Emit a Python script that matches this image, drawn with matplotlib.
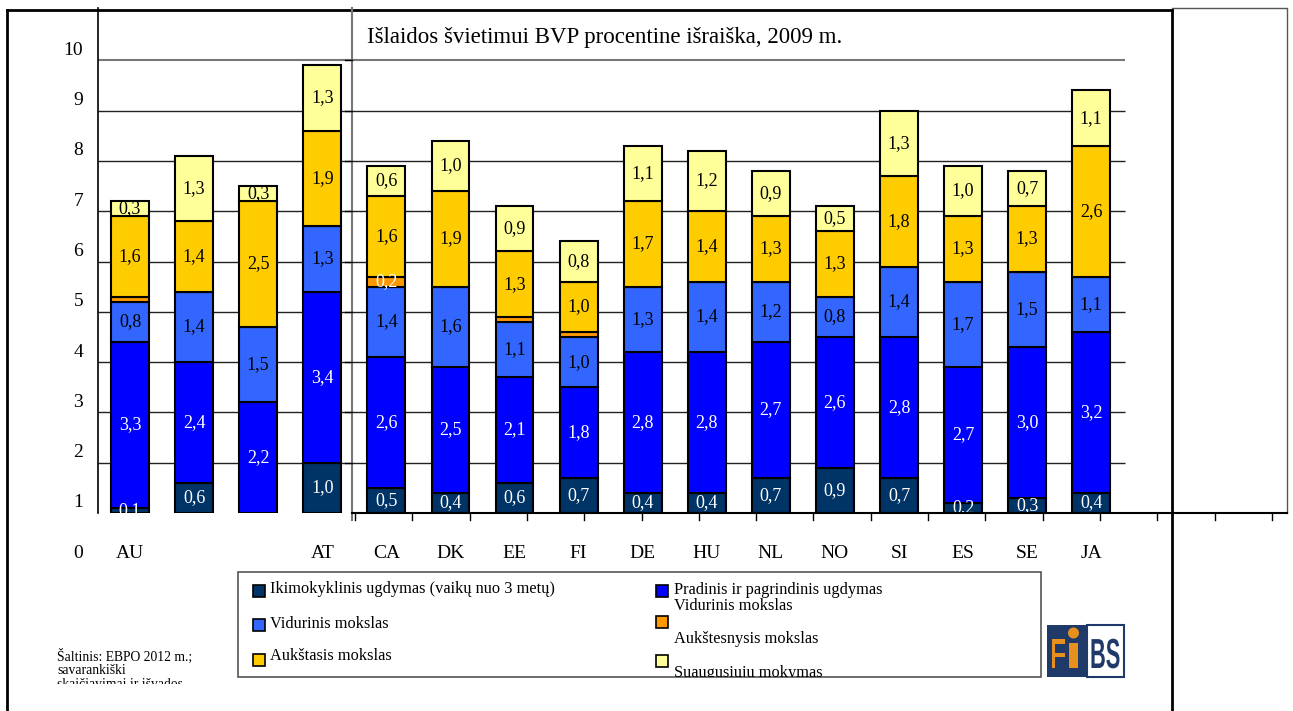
import matplotlib
matplotlib.use('Agg')
import matplotlib.pyplot as plt
from matplotlib.lines import Line2D
from matplotlib.patches import Rectangle, Circle, PathPatch
from matplotlib.textpath import TextPath
from matplotlib.font_manager import FontProperties
from matplotlib.transforms import Affine2D

W, H = 1293, 711
plt.rcParams['font.family'] = ['Liberation Serif', 'DejaVu Serif']

# data (BVP %, 2009)
countries = ['AU', '', '', 'AT', 'CA', 'DK', 'EE', 'FI', 'DE', 'HU', 'NL', 'NO', 'SI', 'ES', 'SE', 'JA']
ikimokyklinis = [0.1, 0.6, 0.0, 1.0, 0.5, 0.4, 0.6, 0.7, 0.4, 0.4, 0.7, 0.9, 0.7, 0.2, 0.3, 0.4]
pradinis = [3.3, 2.4, 2.2, 3.4, 2.6, 2.5, 2.1, 1.8, 2.8, 2.8, 2.7, 2.6, 2.8, 2.7, 3.0, 3.2]
vidurinis = [0.8, 1.4, 1.5, 1.3, 1.4, 1.6, 1.1, 1.0, 1.3, 1.4, 1.2, 0.8, 1.4, 1.7, 1.5, 1.1]
aukstesnysis = [0.1, 0.0, 0.0, 0.0, 0.2, 0.0, 0.1, 0.1, 0.0, 0.0, 0.0, 0.0, 0.0, 0.0, 0.0, 0.0]
aukstasis = [1.6, 1.4, 2.5, 1.9, 1.6, 1.9, 1.3, 1.0, 1.7, 1.4, 1.3, 1.3, 1.8, 1.3, 1.3, 2.6]
suaugusiuju = [0.3, 1.3, 0.3, 1.3, 0.6, 1.0, 0.9, 0.8, 1.1, 1.2, 0.9, 0.5, 1.3, 1.0, 0.7, 1.1]
y_labels = list(range(0, 11))

series = [
    (ikimokyklinis, '#003366', 'white'),
    (pradinis, '#0000FF', 'white'),
    (vidurinis, '#3366FF', 'black'),
    (aukstesnysis, '#FF9900', 'white'),
    (aukstasis, '#FFCC00', 'black'),
    (suaugusiuju, '#FFFF99', 'black'),
]

fig = plt.figure(figsize=(W / 100, H / 100), dpi=100)


def fx(x):
    return x / W


def fy(y):
    return 1 - y / H


def line(xs, ys, **kw):
    fig.add_artist(Line2D([fx(x) for x in xs], [fy(y) for y in ys], **kw))


ax = fig.add_axes([fx(98), fy(513), (1172 - 98) / W, (513 - 10) / H])
ax.set_xlim(-0.5, 16.26)
ax.set_ylim(0, 10)
ax.axis('off')

# gridlines
ax.hlines(range(1, 9), -0.5, 15.53, color='#222222', lw=1, zorder=0)
ax.hlines([9], -0.5, 15.53, color='#777777', lw=1.5, zorder=0)

x = list(range(len(countries)))
bottom = [0.0] * len(countries)
for vals, col, tcol in series:
    ax.bar(x, vals, bottom=bottom, width=0.59, color=col, edgecolor='black', lw=1.5, zorder=2)
    for i, v in enumerate(vals):
        if v <= 0 or (col == '#FF9900' and v < 0.2):
            continue
        ax.text(i, bottom[i] + v / 2, f'{v:.1f}'.replace('.', ','), ha='center', va='center',
                color=tcol, fontsize=13, zorder=3, clip_on=True)
    bottom = [b + v for b, v in zip(bottom, vals)]

for i, c in enumerate(countries):
    ax.text(i, -0.8, c, ha='center', va='center', fontsize=14, clip_on=False)

for k in y_labels:
    ax.text(-0.73, k - 0.8, str(k), ha='right', va='center', fontsize=14, clip_on=False)

fig.text(fx(367), fy(37), 'Išlaidos švietimui BVP procentine išraiška, 2009 m.', ha='left', va='center', fontsize=16.5)

# frames and extra axis lines
line([7, 1172], [10, 10], color='black', lw=2)
line([7, 7], [10, 711], color='black', lw=2)
line([1172, 1172], [10, 711], color='black', lw=2)
line([98, 98], [8, 513], color='black', lw=1.2)
line([352, 352], [8, 520], color='#777777', lw=1.5)
line([1172, 1287, 1287], [8, 8, 513], color='#555555', lw=1)
line([352, 1287], [513, 513], color='black', lw=1.5)
for k in range(17):
    tx = 355 + 57.3 * k
    line([tx, tx], [513, 520], color='black', lw=1)
for v in range(1, 10):
    ty = 513 - 50.3 * v
    line([345, 352], [ty, ty], color='black', lw=1)

# legend box
lg = Rectangle((fx(238), fy(677)), (1041 - 238) / W, (677 - 572) / H, fill=False,
               edgecolor='#555555', lw=1.2, transform=fig.transFigure)
fig.add_artist(lg)
clip = Rectangle((fx(238), fy(677)), (1041 - 238) / W, (677 - 572) / H, transform=fig.transFigure)

legend_sq = [(253, 591, '#003366'), (253, 625, '#3366FF'), (253, 660, '#FFCC00'),
             (656, 591, '#0000FF'), (656, 622, '#FF9900'), (656, 661, '#FFFF99')]
for sx, sy, c in legend_sq:
    fig.add_artist(Rectangle((fx(sx), fy(sy + 6)), 12 / W, 12 / H, facecolor=c, edgecolor='black',
                             lw=1.2, transform=fig.transFigure))

legend_txt = [(270, 589, 'Ikimokyklinis ugdymas (vaikų nuo 3 metų)'),
              (270, 624, 'Vidurinis mokslas'),
              (270, 656, 'Aukštasis mokslas'),
              (674, 590, 'Pradinis ir pagrindinis ugdymas'),
              (674, 606, 'Vidurinis mokslas'),
              (674, 639, 'Aukštesnysis mokslas'),
              (674, 673, 'Suaugusiųjų mokymas')]
for tx, ty, s in legend_txt:
    t = fig.text(fx(tx), fy(ty), s, ha='left', va='center', fontsize=11.8)
    t.set_clip_path(clip)

# source note
src_clip = Rectangle((0, fy(684)), 0.3, 0.2, transform=fig.transFigure)
for i, s in enumerate(['Šaltinis: EBPO 2012 m.;', 'savarankiški', 'skaičiavimai ir išvados']):
    t = fig.text(fx(57), fy(656 + 14 * i), s, ha='left', va='center', fontsize=9.8)
    t.set_clip_path(src_clip)

# logo
navy = '#1F3A68'
orange = '#E8901E'
fig.add_artist(Rectangle((fx(1047), fy(677)), 40 / W, 52 / H, facecolor=navy, edgecolor='none',
                         transform=fig.transFigure))
fig.add_artist(Rectangle((fx(1087), fy(677)), 37 / W, 52 / H, facecolor='white', edgecolor=navy,
                         lw=1.5, transform=fig.transFigure))
px2fig = Affine2D().scale(1 / W, 1 / H) + fig.transFigure
logo_font = FontProperties(family=['Liberation Sans', 'DejaVu Sans'], weight='bold')


def logo_text(s, x0, base, sx, color):
    p = TextPath((0, 0), s, size=42, prop=logo_font)
    tr = Affine2D().scale(sx, 1).translate(x0, H - base) + px2fig
    fig.add_artist(PathPatch(p, facecolor=color, edgecolor='none', transform=tr))


logo_text('F', 1050, 668, 0.62, orange)
fig.add_artist(Rectangle((fx(1069), fy(668)), 9 / W, 25 / H, facecolor=orange, edgecolor='none',
                         transform=fig.transFigure))
fig.add_artist(Circle((1073.5, H - 633), 5.5, facecolor=orange, edgecolor='none', transform=px2fig))
logo_text('BS', 1090, 668, 0.52, navy)

fig.savefig('out.png', dpi=100)
